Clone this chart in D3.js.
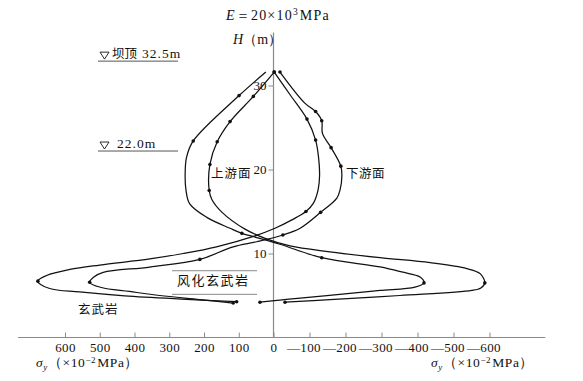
<!DOCTYPE html>
<html><head><meta charset="utf-8">
<script src="https://cdn.jsdelivr.net/npm/d3@7"></script>
<style>
body{margin:0;background:#fff;}
svg{display:block;}
text{font-family:"Liberation Serif","DejaVu Serif",serif;fill:#111;}
.cjk{font-family:"Noto Sans CJK SC","Noto Sans CJK TC",sans-serif;}
</style></head><body>
<svg id="c" width="583" height="381"></svg>
<script>
// ---------- data ----------
const xTickValues = [600,500,400,300,200,100,0,-100,-200,-300,-400,-500,-600];
const xTickLabels = ["600","500","400","300","200","100","0","—100","—200","—300","—400","—500","—600"];
const yTickValues = [10,20,30];
const yTickLabels = ["10","20","30"];

// 上游面 (upstream face, inner-left at top)
const upSigma = [-2,58,125,162,183,185,177,148,82,24,-46,-157,-296,-435,-537,-574,-587,-576,-551,-351,-157,-32];
const upH     = [31.6,28.7,25.7,23.3,20.6,17.5,16.4,14.9,12.9,11.8,10.9,10.2,9.5,8.9,8.2,7.6,6.5,5.9,5.6,5.0,4.5,4.2];
const upMark  = [1,1,1,1,1,1,0,0,0,0,0,0,0,0,0,0,1,0,0,0,0,1];

// outer-left curve at top
const olSigma = [22,99,231,250,254,252,241,192,125,91,48,-18,-134,-296,-356,-407,-418,-393,-296,-212,-74,-18,39];
const olH     = [31.6,28.8,23.4,21.5,19.9,17.6,15.9,14.3,13.0,12.4,11.9,11.1,9.5,8.4,7.8,7.2,6.5,6.0,5.6,5.25,4.7,4.45,4.2];
const olMark  = [0,1,1,0,0,0,0,0,0,1,0,0,1,0,0,0,1,0,0,0,0,0,1];

// inner-right curve at top
const irSigma = [-2,-46,-93,-117,-125,-128,-124,-111,-90,-51,-4,53,164,260,356,500,586,653,678,644,558,428,250,106];
const irH     = [31.6,28.9,26.0,23.5,21.5,19.3,17.6,16.0,15.0,14.0,13.0,12.1,10.8,10.0,9.35,8.63,8.1,7.38,6.71,5.83,5.42,4.96,4.55,4.26];
const irMark  = [1,0,1,1,0,0,0,0,1,0,0,0,0,0,0,0,0,0,1,0,0,0,0,1];

// 下游面 (downstream face, outer-right at top)
const dnSigma = [-18,-87,-117,-134,-136,-160,-187,-190,-185,-176,-131,-74,-26,48,116,212,356,490,517,529,495,414,327,212,116];
const dnH     = [31.6,27.9,26.9,25.8,24.3,22.6,20.4,19.3,17.6,16.6,14.9,13.0,12.2,11.4,10.8,9.3,8.39,7.75,7.2,6.57,5.95,5.48,5.0,4.52,4.1];
const dnMark  = [1,0,1,1,0,1,1,0,0,0,1,0,1,0,0,1,0,0,0,1,0,0,0,0,1];

const levelLabels = ["坝顶32.5m","22.0m"];
const levelH = [32.9,22.2];
const rockH = [7.95,5.14];

// ---------- scales ----------
const svg = d3.select("#c");
const x = d3.scaleLinear().domain([600,0,-600]).range([65,273.5,489.5]);
const y = d3.scaleLinear().domain([0,30]).range([337.5,85.5]);

const axisColor = "#8a8a8a";

// x axis
const xAxis = d3.axisBottom(x).tickValues(xTickValues)
  .tickFormat((d,i)=>xTickLabels[i]).tickSizeInner(-5).tickSizeOuter(0).tickPadding(5);
const gx = svg.append("g").attr("transform",`translate(0,${y(0)})`).call(xAxis);
gx.attr("font-family",null);
gx.select(".domain").remove();
gx.selectAll(".tick line").attr("stroke",axisColor);
gx.selectAll(".tick text").attr("font-size",13).attr("fill","#111")
  .attr("letter-spacing",0.4)
  .each(function(d){ if(d<0){ d3.select(this).attr("text-anchor","end").attr("x",11); } });
svg.append("line").attr("x1",x(735)).attr("x2",x(-755)).attr("y1",y(0)).attr("y2",y(0))
  .attr("stroke",axisColor).attr("stroke-width",1.2);

// y axis
const yAxis = d3.axisLeft(y).tickValues(yTickValues)
  .tickFormat((d,i)=>yTickLabels[i]).tickSizeInner(5).tickSizeOuter(0).tickPadding(2);
const gy = svg.append("g").attr("transform",`translate(${x(0)},0)`).call(yAxis);
gy.attr("font-family",null);
gy.select(".domain").remove();
gy.selectAll(".tick line").attr("stroke",axisColor);
gy.selectAll(".tick text").attr("font-size",13).attr("fill","#111");
svg.append("line").attr("x1",x(0)).attr("x2",x(0)).attr("y1",y(0)).attr("y2",y(36.3))
  .attr("stroke",axisColor).attr("stroke-width",1.2);

// ---------- curves ----------
const line = d3.line().x(d=>x(d.s)).y(d=>y(d.h)).curve(d3.curveCatmullRom.alpha(0.5));
function series(S,H,M){ return S.map((s,i)=>({s:s,h:H[i],m:M[i]})); }
const allSeries = [series(upSigma,upH,upMark),series(olSigma,olH,olMark),
                   series(irSigma,irH,irMark),series(dnSigma,dnH,dnMark)];
allSeries.forEach(data=>{
  svg.append("path").datum(data).attr("d",line).attr("fill","none")
    .attr("stroke","#111").attr("stroke-width",1.25);
  svg.selectAll(null).data(data.filter(d=>d.m)).enter().append("circle")
    .attr("cx",d=>x(d.s)).attr("cy",d=>y(d.h)).attr("r",1.8).attr("fill","#111");
});

// ---------- annotations ----------
// water levels
levelH.forEach((h,i)=>{
  svg.append("line").attr("x1",98).attr("x2",178).attr("y1",y(h)).attr("y2",y(h))
    .attr("stroke","#555").attr("stroke-width",1);
  svg.append("path").attr("d",`M100,${y(h)-9}h9l-4.5,7z`).attr("fill","none")
    .attr("stroke","#111").attr("stroke-width",0.9);
});
const t1 = svg.append("text").attr("x",112).attr("y",y(levelH[0])-3).attr("font-size",13.5);
t1.append("tspan").attr("class","cjk").attr("font-size",12.5).text("坝顶");
t1.append("tspan").attr("dx",5).attr("letter-spacing",1).text("32.5m");
svg.append("text").attr("x",117).attr("y",y(levelH[1])-3).attr("font-size",13.5)
  .attr("letter-spacing",1).text(levelLabels[1]);

// weathered basalt band
rockH.forEach(h=>{
  svg.append("line").attr("x1",172).attr("x2",257).attr("y1",y(h)).attr("y2",y(h))
    .attr("stroke","#888").attr("stroke-width",1);
});
svg.append("text").attr("class","cjk").attr("x",177).attr("y",285).attr("font-size",13)
  .attr("letter-spacing",1.5).text("风化玄武岩");
svg.append("text").attr("class","cjk").attr("x",78).attr("y",314).attr("font-size",12.5)
  .attr("letter-spacing",1).text("玄武岩");
svg.append("text").attr("class","cjk").attr("x",211).attr("y",178).attr("font-size",12.5)
  .attr("letter-spacing",1).text("上游面");
svg.append("text").attr("class","cjk").attr("x",346).attr("y",178).attr("font-size",12.5)
  .attr("letter-spacing",0.5).text("下游面");

// titles
const te = svg.append("text").attr("x",226).attr("y",20).attr("font-size",14).attr("letter-spacing",1.2);
te.append("tspan").attr("font-style","italic").text("E");
te.append("tspan").text("＝20×10");
te.append("tspan").attr("font-size",9.5).attr("dy",-5).text("3");
te.append("tspan").attr("dy",5).attr("dx",1).text("MPa");

const th = svg.append("text").attr("x",233).attr("y",44).attr("font-size",14);
th.append("tspan").attr("font-style","italic").text("H");
th.append("tspan").text("（m）");

function sigmaTitle(x0){
  const t = svg.append("text").attr("x",x0).attr("y",367).attr("font-size",13.5).attr("letter-spacing",0.6);
  t.append("tspan").attr("font-style","italic").text("σ");
  t.append("tspan").attr("font-style","italic").attr("font-size",9).attr("dy",3).text("y");
  t.append("tspan").attr("dy",-3).text("（×10");
  t.append("tspan").attr("font-size",9).attr("dy",-4.5).text("−2");
  t.append("tspan").attr("dy",4.5).attr("dx",1).text("MPa）");
}
sigmaTitle(36);
sigmaTitle(431);
</script>
</body></html>
